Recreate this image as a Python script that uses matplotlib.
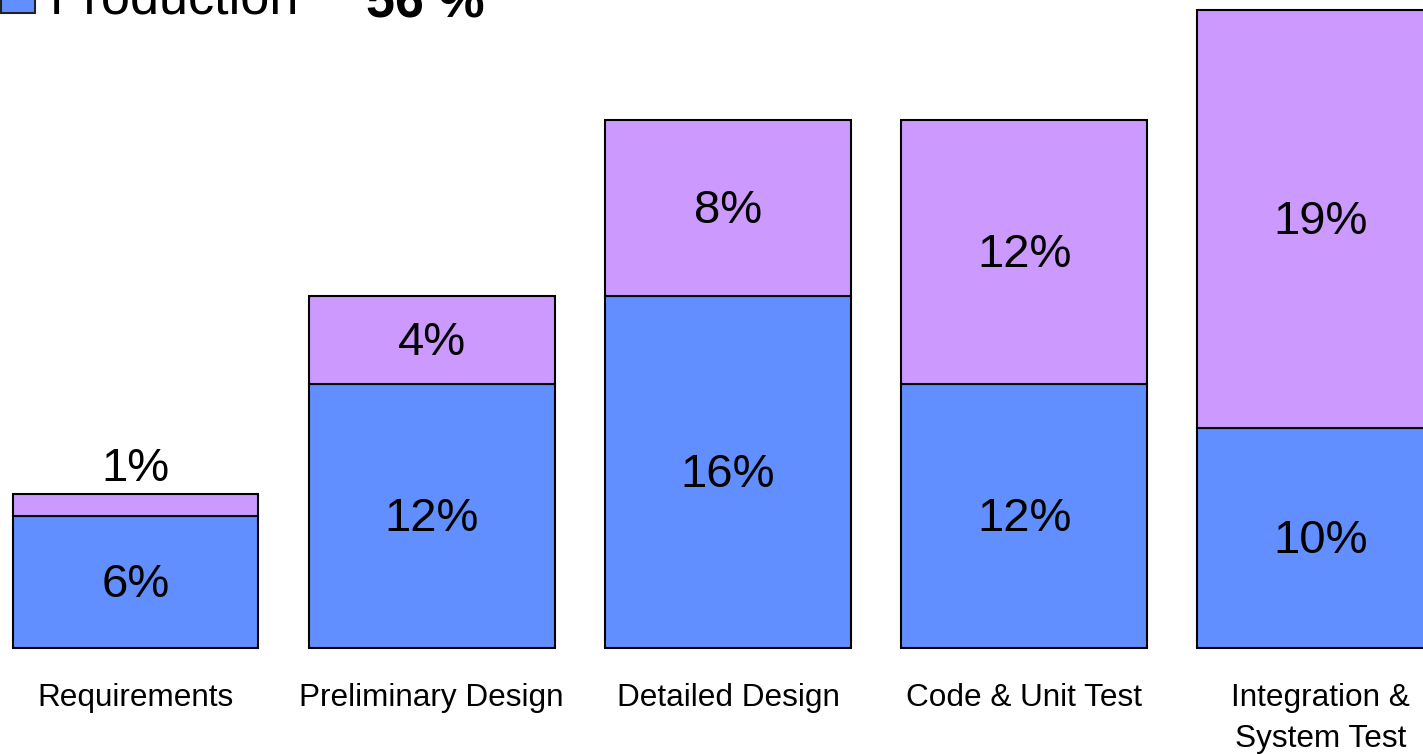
import matplotlib.pyplot as plt
from matplotlib.patches import Rectangle

plt.rcParams['font.family'] = ['Liberation Sans', 'DejaVu Sans']

phases = ["Requirements", "Preliminary Design", "Detailed Design",
          "Code & Unit Test", "Integration &\nSystem Test"]
production = [6, 12, 16, 12, 10]
rework = [1, 4, 8, 12, 19]
production_total = "56 %"

blue = "#628fff"
purple = "#cc99ff"

fig = plt.figure(figsize=(14.23, 7.54), dpi=100)
ax = fig.add_axes([0, 0, 1, 1])
ax.set_xlim(-0.4575, 4.3465)
ax.set_ylim(-4.818, 29.455)
ax.axis('off')

x = list(range(len(phases)))
w = 0.83
ax.bar(x, production, width=w, color=blue, edgecolor='black', linewidth=1.5)
ax.bar(x, rework, width=w, bottom=production, color=purple,
       edgecolor='black', linewidth=1.5)

# nudge so the digits sit visually centred
dy = -0.12
for i in x:
    ax.text(i, production[i] / 2 + dy, f"{production[i]}%", ha='center',
            va='center', fontsize=34)
    if rework[i] < 3:
        ax.text(i, production[i] + rework[i] + 1.25 + dy, f"{rework[i]}%",
                ha='center', va='center', fontsize=34)
    else:
        ax.text(i, production[i] + rework[i] / 2 + dy, f"{rework[i]}%",
                ha='center', va='center', fontsize=34)
    ax.text(i, -1.59, phases[i], ha='center', va='top', fontsize=22.7,
            linespacing=1.47)

# legend entry at the top left
fig.patches.append(Rectangle((1 / 1423, 1 - 12.5 / 754), 34 / 1423, 40 / 754,
                             transform=fig.transFigure, facecolor=blue,
                             edgecolor='#222222', linewidth=1.5))
fig.text(50 / 1423, 1 - 14 / 754, "Production", fontsize=37.5,
         va='baseline', ha='left')
fig.text(366 / 1423, 1 - 18 / 754, production_total, fontsize=37.5,
         fontweight='bold', va='baseline', ha='left')

fig.savefig("out.png", dpi=100)
